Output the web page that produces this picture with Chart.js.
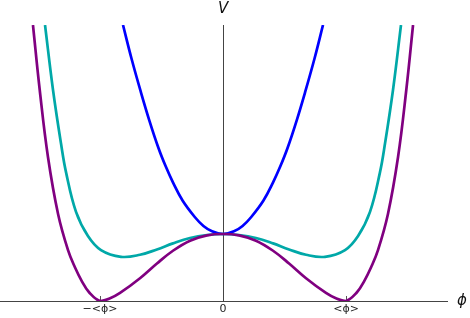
<!DOCTYPE html>
<html>
<head>
<meta charset="utf-8">
<script src="https://cdn.jsdelivr.net/npm/chart.js@4"></script>
<style>
  html, body { margin: 0; padding: 0; background: #fff; }
  #wrap { width: 470px; height: 318px; }
</style>
</head>
<body>
<div id="wrap"><canvas id="potChart"></canvas></div>
<script>
// field values (in units of <phi>) and potential values (V at phi = 0 is 1)
const phiBlue = [-0.813, -0.744, -0.671, -0.598, -0.524, -0.466, -0.407, -0.329, -0.228, -0.159, -0.089, 0,
                 0.089, 0.159, 0.228, 0.329, 0.407, 0.466, 0.524, 0.598, 0.671, 0.744, 0.813];
const vBlue = [4.12, 3.62, 3.14, 2.69, 2.28, 2.01, 1.77, 1.50, 1.25, 1.12, 1.04, 1.00,
               1.04, 1.12, 1.25, 1.50, 1.77, 2.01, 2.28, 2.69, 3.14, 3.62, 4.12];

const phiTeal = [-1.447, -1.382, -1.317, -1.276, -1.195, -1.098, -0.992, -0.829, -0.675, -0.537, -0.407, -0.268, -0.130, 0,
                 0.130, 0.268, 0.407, 0.537, 0.675, 0.829, 0.992, 1.098, 1.195, 1.276, 1.317, 1.382, 1.447];
const vTeal = [4.12, 3.15, 2.35, 1.92, 1.33, 0.97, 0.76, 0.66, 0.69, 0.77, 0.86, 0.94, 0.985, 1.00,
               0.985, 0.94, 0.86, 0.77, 0.69, 0.66, 0.76, 0.97, 1.33, 1.92, 2.35, 3.15, 4.12];

const phiPurple = [-1.545, -1.49, -1.423, -1.341, -1.260, -1.203, -1.146, -1.089, -1.0, -0.918, -0.837, -0.675, -0.537, -0.407, -0.268, -0.130, 0,
                   0.130, 0.268, 0.407, 0.537, 0.675, 0.837, 0.918, 1.0, 1.089, 1.146, 1.203, 1.260, 1.341, 1.423, 1.49, 1.545];
const vPurple = [4.12, 3.15, 2.15, 1.30, 0.76, 0.50, 0.29, 0.13, 0, 0.04, 0.12, 0.34, 0.56, 0.75, 0.90, 0.98, 1.00,
                 0.98, 0.90, 0.75, 0.56, 0.34, 0.12, 0.04, 0, 0.13, 0.29, 0.50, 0.76, 1.30, 2.15, 3.15, 4.12];

const tickValues = [-1, 0, 1];
const tickLabels = ['\u2212<\u03d5>', '0', '<\u03d5>'];
const xLabel = '\u03d5';
const yLabel = 'V';

const pts = (xs, ys) => xs.map((x, i) => ({ x: x, y: ys[i] }));

const axisLabels = {
    id: 'axisLabels',
    afterDraw(chart) {
        const { ctx, chartArea, scales } = chart;
        const x0 = scales.x.getPixelForValue(0);
        ctx.save();
        ctx.fillStyle = '#111';
        ctx.font = 'italic 15px "DejaVu Sans"';
        ctx.textAlign = 'center';
        ctx.textBaseline = 'middle';
        ctx.fillText(yLabel, x0, chartArea.top - 16);
        ctx.fillText(xLabel, chartArea.right + 15, chartArea.bottom);
        ctx.restore();
    }
};

const line = (data, color) => ({
    data: data,
    borderColor: color,
    borderWidth: 2.7,
    pointRadius: 0,
    fill: false,
    tension: 0.4,
});

new Chart(document.getElementById('potChart'), {
    type: 'line',
    data: {
        datasets: [
            line(pts(phiPurple, vPurple), '#800080'),
            line(pts(phiTeal, vTeal), '#00a8a8'),
            line(pts(phiBlue, vBlue), '#0000ff'),
        ]
    },
    options: {
        responsive: true,
        maintainAspectRatio: false,
        animation: false,
        layout: { padding: { top: 25, right: 23, left: 0, bottom: 0 } },
        plugins: { legend: { display: false }, tooltip: { enabled: false } },
        scales: {
            x: {
                type: 'linear',
                min: -1.813,
                max: 1.821,
                afterBuildTicks: s => { s.ticks = tickValues.map(v => ({ value: v })); },
                afterFit: s => { s.height = 17; },
                ticks: {
                    callback: (v, i) => tickLabels[i],
                    color: '#222',
                    padding: 7,
                    maxRotation: 0,
                    font: { family: 'DejaVu Sans', size: 11 }
                },
                grid: { drawOnChartArea: false, tickLength: -5, color: '#555' },
                border: { color: '#444', width: 1 }
            },
            y: {
                position: { x: 0 },
                min: 0,
                max: 4.12,
                ticks: { display: false },
                grid: { display: false },
                border: { color: '#444', width: 1 }
            }
        }
    },
    plugins: [axisLabels]
});
</script>
</body>
</html>
